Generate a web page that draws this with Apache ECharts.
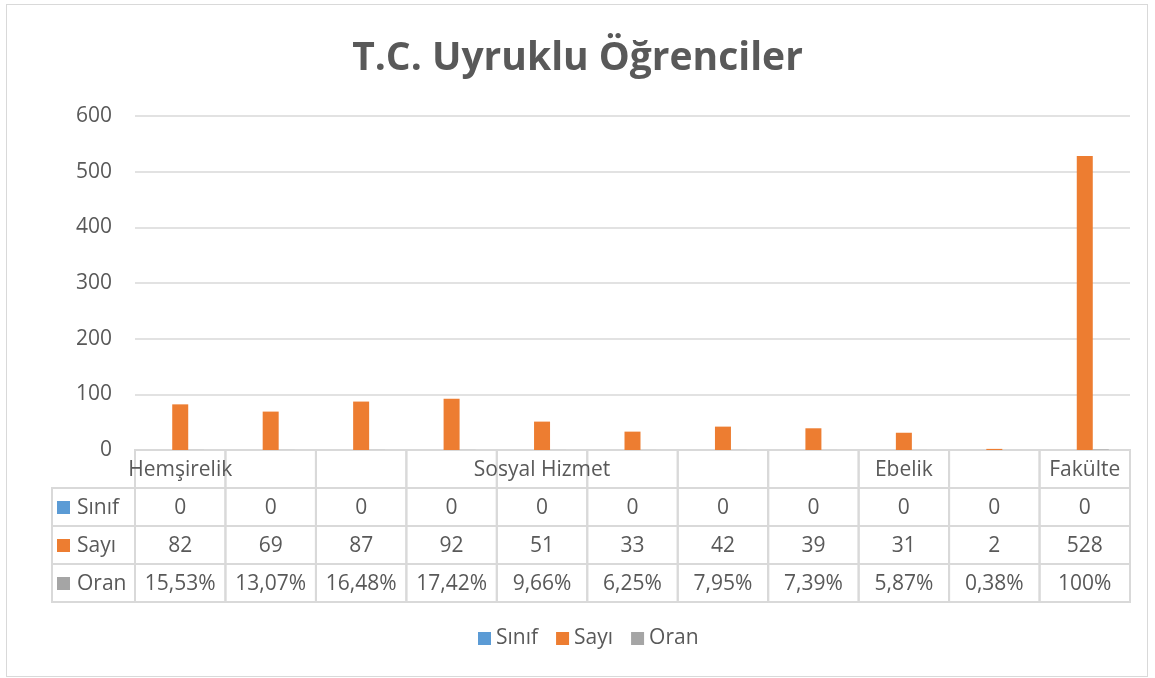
<!DOCTYPE html>
<html>
<head>
<meta charset="utf-8">
<script src="https://cdn.jsdelivr.net/npm/echarts@6/dist/echarts.min.js"></script>
<style>
  html, body { margin: 0; padding: 0; background: #fff; }
  #chart { width: 1155px; height: 678px; }
  .frame { position: absolute; left: 6px; top: 4px; width: 1140px; height: 671px; border: 1px solid #d9d9d9; pointer-events: none; }
</style>
</head>
<body>
<div id="chart"></div>
<div class="frame"></div>
<script>
const FONT = '"Open Sans", sans-serif';
const GRAY = '#595959';

const categories = ['Hemşirelik', '', '', '', 'Sosyal Hizmet', '', '', '', 'Ebelik', '', 'Fakülte'];
const seriesNames = ['Sınıf', 'Sayı', 'Oran'];
const seriesColors = ['#5B9BD5', '#ED7D31', '#A5A5A5'];
const sinif = [0, 0, 0, 0, 0, 0, 0, 0, 0, 0, 0];
const sayi = [82, 69, 87, 92, 51, 33, 42, 39, 31, 2, 528];
const oran = [0.1553, 0.1307, 0.1648, 0.1742, 0.0966, 0.0625, 0.0795, 0.0739, 0.0587, 0.0038, 1];
const yTicks = { min: 0, max: 600, interval: 100 };

function fmtPct(v) {
    const p = v * 100;
    if (Number.isInteger(p)) return p + '%';
    return p.toFixed(2).replace('.', ',') + '%';
}

// table cells: row 0 = category names, then one row per series
const tableRows = [
    categories,
    sinif.map(String),
    sayi.map(String),
    oran.map(fmtPct)
];
const cellData = [];
const cellText = [];
tableRows.forEach((row, r) => {
    row.forEach((txt, c) => {
        cellData.push([c, r]);
        cellText.push(txt);
    });
});

const chart = echarts.init(document.getElementById('chart'));

const option = {
    animation: false,
    title: {
        text: 'T.C. Uyruklu Öğrenciler',
        left: 'center',
        top: 34,
        textStyle: { fontFamily: FONT, fontSize: 39, fontWeight: 'bold', color: GRAY }
    },
    legend: {
        data: seriesNames,
        bottom: 24,
        left: 473,
        icon: 'rect',
        itemWidth: 13,
        itemHeight: 13,
        itemGap: 18,
        textStyle: { fontFamily: FONT, fontSize: 21, color: GRAY }
    },
    grid: [
        { left: 135, right: 25, top: 116, bottom: 228 },
        { left: 135, right: 25, top: 450, height: 152 },
        { left: 52, width: 83, top: 488, height: 114 }
    ],
    xAxis: [
        {
            type: 'category', gridIndex: 0, data: categories,
            axisLabel: { show: false }, axisTick: { show: false },
            axisLine: { lineStyle: { color: '#d9d9d9' } }
        },
        { type: 'category', gridIndex: 1, data: categories.map((_, i) => i), show: false },
        { type: 'category', gridIndex: 2, data: ['h'], show: false }
    ],
    yAxis: [
        {
            type: 'value', gridIndex: 0, min: yTicks.min, max: yTicks.max, interval: yTicks.interval,
            axisLabel: { fontFamily: FONT, fontSize: 21, color: GRAY, margin: 23 },
            axisLine: { show: false }, axisTick: { show: false },
            splitLine: { lineStyle: { color: '#d9d9d9', width: 1.5 } }
        },
        { type: 'category', gridIndex: 1, data: [0, 1, 2, 3], inverse: true, show: false },
        { type: 'category', gridIndex: 2, data: seriesNames, inverse: true, show: false }
    ],
    series: [
        {
            name: 'Sınıf', type: 'bar', data: sinif, barWidth: 16, barGap: '0%',
            itemStyle: { color: seriesColors[0] }
        },
        {
            name: 'Sayı', type: 'bar', data: sayi, barWidth: 16, barGap: '0%',
            itemStyle: { color: seriesColors[1] }
        },
        {
            name: 'Oran', type: 'bar', data: oran, barWidth: 16, barGap: '0%',
            itemStyle: { color: seriesColors[2] }
        },
        {
            type: 'custom', xAxisIndex: 1, yAxisIndex: 1, data: cellData, silent: true,
            renderItem: function (params, api) {
                const p = api.coord([api.value(0), api.value(1)]);
                const s = api.size([1, 1]);
                return {
                    type: 'group',
                    children: [
                        {
                            type: 'rect',
                            shape: { x: p[0] - s[0] / 2, y: p[1] - s[1] / 2, width: s[0], height: s[1] },
                            style: { fill: null, stroke: '#d9d9d9', lineWidth: 2 }
                        },
                        {
                            type: 'text', x: p[0], y: p[1] + 1, z2: 10,
                            style: {
                                text: cellText[params.dataIndex],
                                align: 'center', verticalAlign: 'middle',
                                fill: GRAY, font: '21px ' + FONT
                            }
                        }
                    ]
                };
            }
        },
        {
            type: 'custom', xAxisIndex: 2, yAxisIndex: 2, silent: true,
            data: seriesNames.map((_, i) => [0, i]),
            renderItem: function (params, api) {
                const p = api.coord([api.value(0), api.value(1)]);
                const s = api.size([1, 1]);
                const x0 = p[0] - s[0] / 2;
                return {
                    type: 'group',
                    children: [
                        {
                            type: 'rect',
                            shape: { x: x0, y: p[1] - s[1] / 2, width: s[0], height: s[1] },
                            style: { fill: null, stroke: '#d9d9d9', lineWidth: 2 }
                        },
                        {
                            type: 'rect',
                            shape: { x: x0 + 5, y: p[1] - 6, width: 13, height: 13 },
                            style: { fill: seriesColors[params.dataIndex] }
                        },
                        {
                            type: 'text', x: x0 + 25, y: p[1] + 1,
                            style: {
                                text: seriesNames[params.dataIndex],
                                align: 'left', verticalAlign: 'middle',
                                fill: GRAY, font: '21px ' + FONT
                            }
                        }
                    ]
                };
            }
        }
    ]
};

chart.setOption(option);
window.onresize = () => chart.resize();
</script>
</body>
</html>
